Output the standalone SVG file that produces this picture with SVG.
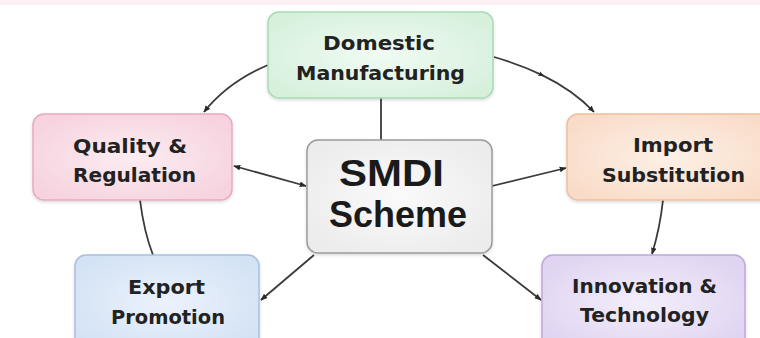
<svg xmlns="http://www.w3.org/2000/svg" width="760" height="338" viewBox="0 0 760 338">
<defs>
<radialGradient id="gGreen" cx="50%" cy="50%" r="60%"><stop offset="0" stop-color="#f1fbf3"/><stop offset="1" stop-color="#d6f0dc"/></radialGradient>
<radialGradient id="gPink" cx="50%" cy="50%" r="60%"><stop offset="0" stop-color="#fcecf1"/><stop offset="1" stop-color="#f6d3de"/></radialGradient>
<radialGradient id="gPeach" cx="50%" cy="50%" r="60%"><stop offset="0" stop-color="#fdf0e6"/><stop offset="1" stop-color="#f9dcc8"/></radialGradient>
<radialGradient id="gBlue" cx="50%" cy="50%" r="60%"><stop offset="0" stop-color="#ecf2fb"/><stop offset="1" stop-color="#d3e2f5"/></radialGradient>
<radialGradient id="gPurple" cx="50%" cy="50%" r="60%"><stop offset="0" stop-color="#f3eefa"/><stop offset="1" stop-color="#e0d4f2"/></radialGradient>
<radialGradient id="gGray" cx="50%" cy="50%" r="60%"><stop offset="0" stop-color="#fafafa"/><stop offset="1" stop-color="#ececec"/></radialGradient>
<filter id="sh" x="-10%" y="-10%" width="120%" height="130%"><feDropShadow dx="0" dy="1.5" stdDeviation="1.5" flood-color="#000" flood-opacity="0.15"/></filter>
<marker id="ah" viewBox="0 0 10 10" refX="9" refY="5" markerWidth="7" markerHeight="7" orient="auto-start-reverse" markerUnits="userSpaceOnUse"><path d="M0,1 L10,5 L0,9 Z" fill="#2a2a2a"/></marker>
<marker id="mid" viewBox="0 0 10 10" refX="5" refY="5" markerWidth="6" markerHeight="6" orient="auto" markerUnits="userSpaceOnUse"><path d="M0,1 L10,5 L0,9 Z" fill="#2a2a2a"/></marker>
</defs>
<style>
.box{stroke-width:1.5;filter:url(#sh)}
.lbl{font-family:"DejaVu Sans","Liberation Sans",sans-serif;font-weight:bold;font-size:19.5px;fill:#222;text-anchor:middle}
.big{font-family:"Liberation Sans",Arial,sans-serif;font-weight:bold;font-size:36px;fill:#1a1a1a;text-anchor:middle}
.con{fill:none;stroke:#3a3a3a;stroke-width:1.8}
</style>
<rect x="0" y="0" width="760" height="338" fill="#ffffff"/>
<rect x="0" y="0" width="760" height="5" fill="#fbf1f4"/>
<g id="connectors">
<path class="con" d="M268,65 Q228,82 204,112" marker-end="url(#ah)"/>
<path class="con" d="M494,57 Q520.4,64.6 541.7,74.9 Q573.6,90.4 594,112" marker-mid="url(#mid)" marker-end="url(#ah)"/>
<path class="con" d="M381,98 L381,141"/>
<path class="con" d="M234,166 L306,186" marker-start="url(#ah)" marker-end="url(#ah)"/>
<path class="con" d="M492,186 L566,168" marker-end="url(#ah)"/>
<path class="con" d="M140,200 Q144,232 153,255"/>
<path class="con" d="M314,255 L261,300" marker-end="url(#ah)"/>
<path class="con" d="M483,255 L541,300" marker-end="url(#ah)"/>
<path class="con" d="M663,200 Q660,228 652,254" marker-end="url(#ah)"/>
</g>
<g id="domestic">
<rect class="box" x="268" y="12" width="225" height="86" rx="11" fill="url(#gGreen)" stroke="#a9dbb5"/>
<text class="lbl" x="379" y="50" textLength="112" lengthAdjust="spacingAndGlyphs">Domestic</text>
<text class="lbl" x="380.5" y="80" textLength="169" lengthAdjust="spacingAndGlyphs">Manufacturing</text>
</g>
<g id="quality">
<rect class="box" x="33" y="114" width="199" height="86" rx="11" fill="url(#gPink)" stroke="#e9aabf"/>
<text class="lbl" x="130" y="153" textLength="114" lengthAdjust="spacingAndGlyphs">Quality &amp;</text>
<text class="lbl" x="134.5" y="182" textLength="123" lengthAdjust="spacingAndGlyphs">Regulation</text>
</g>
<g id="import">
<rect class="box" x="567" y="114" width="205" height="86" rx="11" fill="url(#gPeach)" stroke="#efbe9f"/>
<text class="lbl" x="673" y="152" textLength="80" lengthAdjust="spacingAndGlyphs">Import</text>
<text class="lbl" x="673.5" y="182" textLength="143" lengthAdjust="spacingAndGlyphs">Substitution</text>
</g>
<g id="smdi">
<rect class="box" x="307" y="140" width="185" height="113" rx="11" fill="url(#gGray)" stroke="#9c9c9c" stroke-width="2"/>
<text class="big" x="391.5" y="186" textLength="105" lengthAdjust="spacingAndGlyphs">SMDI</text>
<text class="big" x="398" y="227" textLength="138" lengthAdjust="spacingAndGlyphs">Scheme</text>
</g>
<g id="export">
<rect class="box" x="75" y="255" width="184" height="95" rx="11" fill="url(#gBlue)" stroke="#a6c0e2"/>
<text class="lbl" x="166.5" y="294" textLength="77" lengthAdjust="spacingAndGlyphs">Export</text>
<text class="lbl" x="168" y="324" textLength="114" lengthAdjust="spacingAndGlyphs">Promotion</text>
</g>
<g id="innovation">
<rect class="box" x="542" y="255" width="203" height="95" rx="11" fill="url(#gPurple)" stroke="#bda8dd"/>
<text class="lbl" x="644.5" y="293" textLength="145" lengthAdjust="spacingAndGlyphs">Innovation &amp;</text>
<text class="lbl" x="644.5" y="322" textLength="129" lengthAdjust="spacingAndGlyphs">Technology</text>
</g>
</svg>
